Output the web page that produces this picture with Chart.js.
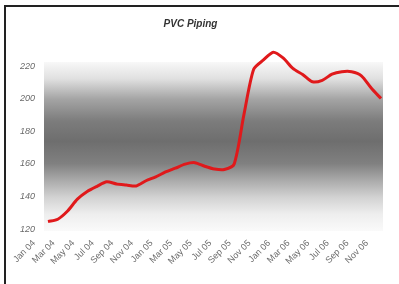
<!DOCTYPE html>
<html>
<head>
<meta charset="utf-8">
<script src="https://cdn.jsdelivr.net/npm/chart.js@4"></script>
<style>
  html, body { margin: 0; padding: 0; background: #fff; }
  #wrap { width: 399px; height: 284px; position: relative; }
</style>
</head>
<body>
<div id="wrap"><canvas id="pvc"></canvas></div>
<script>
// monthly, Jan 04 .. Nov 06
const months = [
  'Jan 04', 'Feb 04', 'Mar 04', 'Apr 04', 'May 04', 'Jun 04', 'Jul 04', 'Aug 04', 'Sep 04', 'Oct 04', 'Nov 04', 'Dec 04',
  'Jan 05', 'Feb 05', 'Mar 05', 'Apr 05', 'May 05', 'Jun 05', 'Jul 05', 'Aug 05', 'Sep 05', 'Oct 05', 'Nov 05', 'Dec 05',
  'Jan 06', 'Feb 06', 'Mar 06', 'Apr 06', 'May 06', 'Jun 06', 'Jul 06', 'Aug 06', 'Sep 06', 'Oct 06', 'Nov 06'
];
const pvcPrice = [
  124.5, 126, 131, 138.3, 143, 146.2, 149, 147.6, 147, 146.4, 149.6, 152,
  155, 157.3, 159.8, 160.7, 158.5, 156.8, 156.5, 159.8, 190, 218, 223.7, 228.5,
  225, 218.5, 214.8, 210.3, 211.2, 215, 216.5, 216.5, 214, 206.5, 200
];
const yTicks = [120, 140, 160, 180, 200, 220];

// grey band behind the plot + the frame lines
const backdrop = {
  id: 'backdrop',
  beforeDatasetsDraw(chart) {
    const { ctx, chartArea } = chart;
    const top = chartArea.top - 4, bottom = chartArea.bottom + 2;
    const g = ctx.createLinearGradient(0, top, 0, bottom);
    g.addColorStop(0, '#f8f8f8');
    g.addColorStop(0.1, '#e0e0e0');
    g.addColorStop(0.22, '#a4a4a4');
    g.addColorStop(0.35, '#7c7c7c');
    g.addColorStop(0.47, '#6e6e6e');
    g.addColorStop(0.6, '#808080');
    g.addColorStop(0.7, '#aaaaaa');
    g.addColorStop(0.8, '#d2d2d2');
    g.addColorStop(0.9, '#eeeeee');
    g.addColorStop(1, '#fafafa');
    ctx.save();
    ctx.fillStyle = g;
    ctx.fillRect(chartArea.left - 4, top, chartArea.width + 6, bottom - top);
    ctx.restore();
  },
  afterDraw(chart) {
    const ctx = chart.ctx;
    ctx.save();
    ctx.strokeStyle = '#222';
    ctx.lineWidth = 2;
    ctx.beginPath();
    ctx.moveTo(5, chart.height);
    ctx.lineTo(5, 6);
    ctx.lineTo(chart.width, 6);
    ctx.stroke();
    ctx.restore();
  }
};

new Chart(document.getElementById('pvc'), {
  type: 'line',
  data: {
    labels: months,
    datasets: [{
      label: 'PVC Piping',
      data: pvcPrice,
      borderColor: '#e0191b',
      borderWidth: 3,
      pointRadius: 0,
      tension: 0.25,
      clip: false
    }]
  },
  options: {
    responsive: true,
    maintainAspectRatio: false,
    animation: false,
    layout: { padding: { left: 0, right: 18, top: 0, bottom: 0 } },
    plugins: {
      legend: { display: false },
      tooltip: { enabled: false },
      title: {
        display: true,
        text: 'PVC Piping',
        color: '#333',
        font: { family: 'Liberation Sans', size: 10, weight: 'bold', style: 'italic' },
        padding: { top: 18, bottom: 36 }
      }
    },
    scales: {
      x: {
        offset: false,
        grid: { display: false, drawTicks: false },
        border: { display: false },
        ticks: {
          autoSkip: false,
          maxRotation: 45,
          minRotation: 45,
          labelOffset: -14,
          padding: 9,
          color: '#6a6a6a',
          font: { family: 'Liberation Sans', size: 9 },
          callback: (v, i) => (i % 2 === 0 ? months[i] : '')
        },
        afterFit(scale) {
          scale.height = 55;
          scale.paddingLeft = 0;
          scale.paddingRight = 0;
        }
      },
      y: {
        min: 120,
        max: 220,
        grid: { display: false, drawTicks: false },
        border: { display: false },
        afterBuildTicks(scale) {
          scale.ticks = yTicks.map(v => ({ value: v }));
        },
        ticks: {
          padding: 13,
          color: '#6a6a6a',
          font: { family: 'Liberation Sans', size: 9, style: 'italic' }
        },
        afterFit(scale) {
          scale.width = 48;
          scale.paddingTop = 0;
          scale.paddingBottom = 0;
        }
      }
    }
  },
  plugins: [backdrop]
});
</script>
</body>
</html>
